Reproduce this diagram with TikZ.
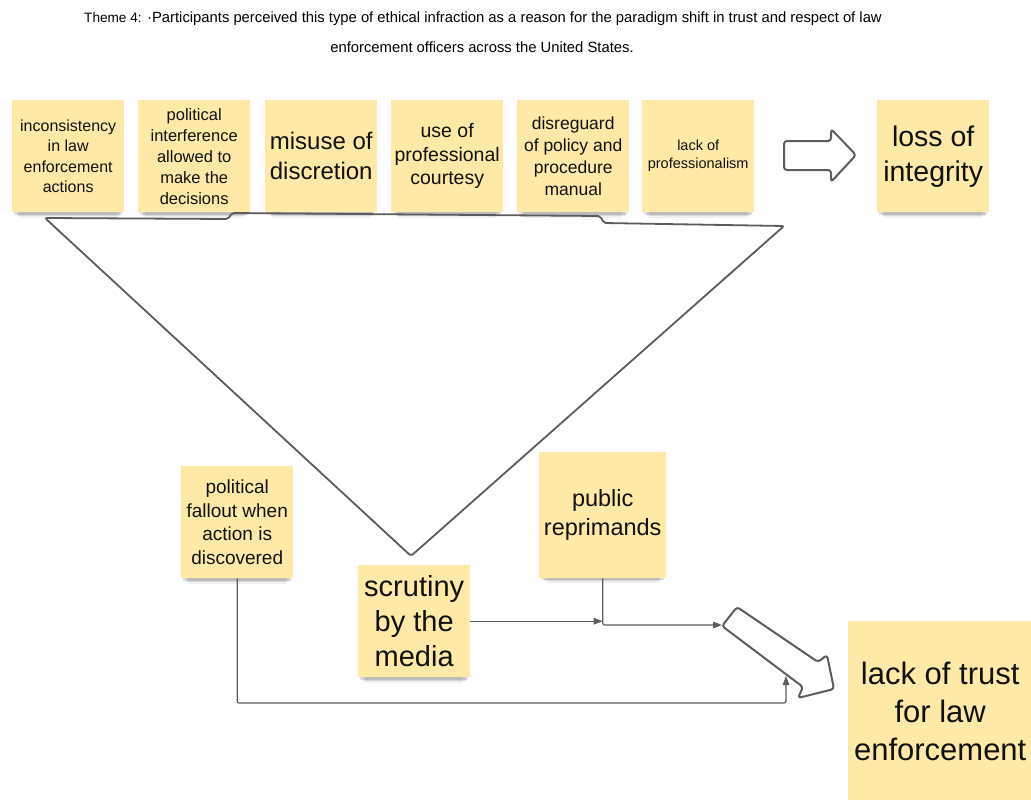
\documentclass[tikz,border=0pt]{standalone}
\usepackage{fontspec}
\setmainfont{Liberation Sans}
\usetikzlibrary{arrows.meta,shadows}
\definecolor{notefill}{HTML}{FFE9A6}
\definecolor{wire}{HTML}{5C5C5C}
\definecolor{ink}{HTML}{111111}

\begin{document}
\begin{tikzpicture}[x=1pt,y=-1pt,>={Triangle[length=9pt,width=6.5pt]},
note/.style={fill=notefill,anchor=north west,inner sep=0pt,align=center,text=ink,general shadow={fill=black,opacity=.06,shadow yshift=-14pt,shadow scale=.88},general shadow={fill=black,opacity=.10,shadow yshift=-9pt,shadow scale=.92},general shadow={fill=black,opacity=.12,shadow yshift=-5pt,shadow scale=.96}},
sq/.style={minimum width=112pt,minimum height=112pt},
fs/.style 2 args={font=\fontsize{#1}{#2}\selectfont},
conn/.style={draw=wire,line width=1.2pt,rounded corners=2pt},
funnel/.style={draw=wire,line width=1.8pt,rounded corners=2pt,line join=round},
block/.style={draw=wire,fill=white,line width=2pt,rounded corners=3pt,line join=round}]
\useasboundingbox (0,0) rectangle (1031,800);
\fill[white] (0,0) rectangle (1031,800);
\clip (0,0) rectangle (1031,800);
% heading
\node[anchor=base,fs={14.8}{16}] (title) at (483,23) {{\fontsize{13.6}{16}\selectfont Theme 4:} ·Participants perceived this type of ethical infraction as a reason for the paradigm shift in trust and respect of law};
\node[anchor=base,fs={14.8}{16}] (title2) at (482,53) {enforcement officers across the United States.};
% top row of notes
\node[note,sq,fs={16}{20.5}] (inconsist) at (12,100) {inconsistency\\in law\\enforcement\\actions};
\node[note,sq,fs={16.5}{21}] (interfere) at (138,100) {political\\interference\\allowed to\\make the\\decisions};
\node[note,sq,fs={24}{30}] (misuse) at (265,100) {misuse of\\discretion};
\node[note,sq,fs={19.5}{23.5}] (courtesy) at (391,100) {use of\\professional\\courtesy};
\node[note,sq,fs={17.5}{22}] (disregard) at (517,100) {disreguard\\of policy and\\procedure\\manual};
\node[note,sq,fs={14.5}{18}] (unprof) at (642,100) {lack of\\professionalism};
\node[note,sq,fs={28.5}{35}] (integrity) at (877,100) {loss of\\integrity};
% funnel
\draw[funnel] (45,218) -- (228,219) -- (232,213) -- (600,216) -- (604,223) -- (784,226) -- (411,556) -- cycle;
% block arrows
\draw[block] (784,141) -- (831,141) -- (831,129) -- (856,155) -- (831,182) -- (831,170) -- (784,170) -- cycle;
\draw[block] (737,607) -- (818,662) -- (827,655) -- (834,689) -- (798,698) -- (803,687) -- (722,626) -- cycle;
\coordinate (tail) at (722,625);
\coordinate (entry) at (786,676);
\coordinate (floor) at (0,703);
% lower notes
\node[note,sq,fs={19}{23.5}] (fallout) at (181,466) {political\\fallout when\\action is\\discovered};
\node[note,sq,fs={29}{35}] (scrutiny) at (358,565) {scrutiny\\by the\\media};
\node[note,minimum width=127pt,minimum height=126pt,fs={23.5}{29}] (reprim) at (539,452) {public\\reprimands};
\node[note,minimum width=184pt,minimum height=180pt,fs={31}{38}] (distrust) at (848,621) {lack of trust\\for law\\enforcement};
% connectors
\draw[conn,->] (scrutiny.east) -- (scrutiny.east -| reprim.south);
\draw[conn,->] (reprim.south) |- (tail);
\draw[conn,->] (fallout.south) -- (fallout.south |- floor) -| (entry);
\end{tikzpicture}
\end{document}
